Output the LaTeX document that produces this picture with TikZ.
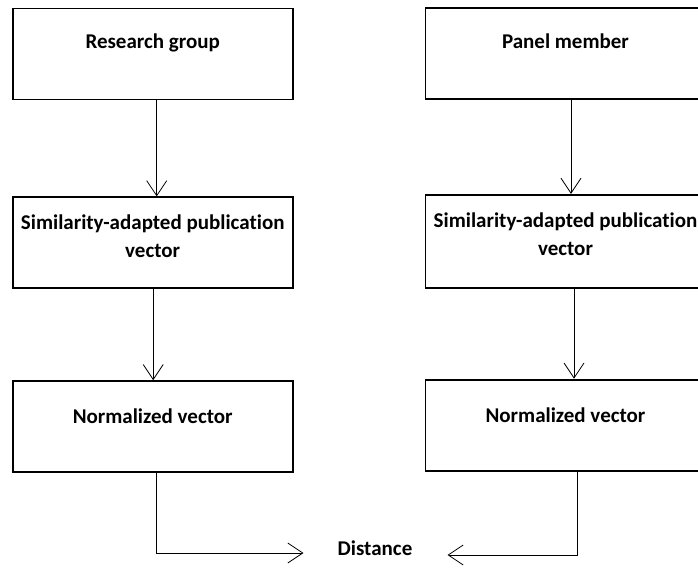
\documentclass[tikz,border=0pt]{standalone}
\usepackage{fontspec}
\setmainfont{Carlito}[Ligatures=NoCommon]
\usetikzlibrary{arrows.meta, positioning}

\begin{document}
\begin{tikzpicture}[
    x=1pt, y=-1pt,
    flowbox/.style={
        rectangle, 
        draw, 
        line width=1.8pt, 
        minimum width=280pt, 
        minimum height=91pt, 
        align=center, 
        font=\fontsize{21}{28}\selectfont\bfseries
    },
    distlabel/.style={
        inner sep=0pt, 
        font=\fontsize{21}{28}\selectfont\bfseries
    },
    arrow/.style={
        -{Straight Barb[length=15pt, width=20pt]}, 
        line width=0.8pt
    }
]
    \useasboundingbox (0,0) rectangle (698,567);
    \clip (0,0) rectangle (698,567);

    % linke Spalte: Forschungsgruppe
    \node (rg) [flowbox, text depth=25pt] at (152.7,54) {Research group};
    \node (simL) [flowbox, text depth=14pt, below=96pt of rg] {Similarity-adapted publication\\vector};
    \node (nvL) [flowbox, text depth=20pt, below=91pt of simL] {Normalized vector};

    % rechte Spalte: Panelmitglied
    \node (pm) [flowbox, text depth=24pt] at (565.5,53.5) {Panel member};
    \node (simR) [flowbox, text depth=14pt, minimum height=93pt, below=94pt of pm] {Similarity-adapted publication\\vector};
    \node (nvR) [flowbox, text depth=20pt, below=90pt of simR] {Normalized vector};

    \node (dist) [distlabel] at (375,548) {Distance};

    % Pfeile nach unten
    \draw[arrow] ([xshift=4pt]rg.south) -- ([xshift=4pt]simL.north);
    \draw[arrow] ([xshift=0.5pt]simL.south) -- ([xshift=0.5pt]nvL.north);
    \draw[arrow] ([xshift=5.5pt]pm.south) -- ([xshift=5.5pt]simR.north);
    \draw[arrow] ([xshift=8.5pt]simR.south) -- ([xshift=8.5pt]nvR.north);

    % zur Distanz
    \draw[arrow] ([xshift=3.3pt]nvL.south) |- ([xshift=-34pt, yshift=-5pt]dist.west);
    \draw[arrow] ([xshift=11.5pt]nvR.south) |- ([xshift=35pt, yshift=-7pt]dist.east);

\end{tikzpicture}
\end{document}
